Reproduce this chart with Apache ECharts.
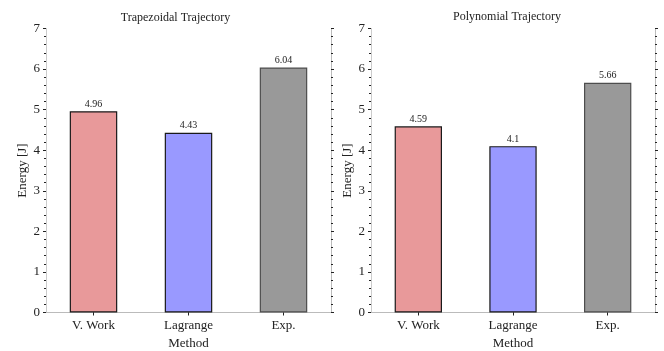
<!DOCTYPE html>
<html>
<head>
<meta charset="utf-8">
<script src="https://cdn.jsdelivr.net/npm/echarts@6/dist/echarts.min.js"></script>
<style>
  html, body { margin: 0; padding: 0; background: #fff; }
  #chart { width: 664px; height: 351px; }
</style>
</head>
<body>
<div id="chart"></div>
<script>
// Energy per method for two trajectory types
const methods = ['V. Work', 'Lagrange', 'Exp.'];
const trapezoidalEnergy = [4.96, 4.43, 6.04];
const polynomialEnergy = [4.59, 4.1, 5.66];
const panelTitles = ['Trapezoidal Trajectory', 'Polynomial Trajectory'];
const yTicks = [0, 1, 2, 3, 4, 5, 6, 7];

const FONT = '"Liberation Serif", "DejaVu Serif", serif';
const faceColors = ['#e8999a', '#9999ff', '#999999'];
const edgeColors = ['#1a1a1a', '#1a1a1a', '#4d4d4d'];

const chart = echarts.init(document.getElementById('chart'), null, { renderer: 'canvas' });

const grids = [
  { left: 46, right: 333, top: 28.5, bottom: 38.5, outerBoundsMode: 'none', containLabel: false },
  { left: 371, right: 9, top: 28.5, bottom: 38.5, outerBoundsMode: 'none', containLabel: false }
];

const xAxes = [];
const yAxes = [];
const series = [];

[trapezoidalEnergy, polynomialEnergy].forEach((values, g) => {
  // bottom category axis
  xAxes.push({
    type: 'category', gridIndex: g, data: methods, position: 'bottom',
    name: 'Method', nameLocation: 'middle', nameGap: 21,
    nameTextStyle: { fontFamily: FONT, fontSize: 13, color: '#222' },
    axisLine: { lineStyle: { color: '#777', width: 1.2 } },
    axisTick: { show: true, alignWithLabel: true, length: 3, lineStyle: { color: '#222' } },
    axisLabel: { fontFamily: FONT, fontSize: 13, color: '#222', margin: 7 },
    splitLine: { show: false }
  });
  // top frame with ticks
  xAxes.push({
    type: 'category', gridIndex: g, data: methods, position: 'top',
    axisLine: { show: true, lineStyle: { color: '#bbb', width: 1 } },
    axisTick: { show: true, alignWithLabel: true, length: 3, lineStyle: { color: '#222' } },
    axisLabel: { show: false },
    splitLine: { show: false }
  });
  // left value axis
  yAxes.push({
    type: 'value', gridIndex: g, min: 0, max: 7, interval: 1, position: 'left',
    name: 'Energy [J]', nameLocation: 'middle', nameGap: 17,
    nameTextStyle: { fontFamily: FONT, fontSize: 13, color: '#222' },
    axisLine: { show: true, lineStyle: { color: '#ccc', width: 1 } },
    axisTick: { show: true, length: 3, lineStyle: { color: '#222' } },
    minorTick: { show: true, splitNumber: 5, length: 2, lineStyle: { color: '#222' } },
    axisLabel: {
      fontFamily: FONT, fontSize: 13, color: '#222', margin: 6,
      formatter: v => (yTicks.includes(v) ? String(v) : '')
    },
    splitLine: { show: false }
  });
  // right frame with ticks
  yAxes.push({
    type: 'value', gridIndex: g, min: 0, max: 7, interval: 1, position: 'right',
    axisLine: { show: true, lineStyle: { color: '#bbb', width: 1 } },
    axisTick: { show: true, length: 3, lineStyle: { color: '#222' } },
    minorTick: { show: true, splitNumber: 5, length: 2, lineStyle: { color: '#222' } },
    axisLabel: { show: false },
    splitLine: { show: false }
  });

  series.push({
    type: 'bar',
    xAxisIndex: g * 2, yAxisIndex: g * 2,
    barWidth: '50%',
    data: values.map((v, i) => ({
      value: v,
      itemStyle: { color: faceColors[i], borderColor: edgeColors[i], borderWidth: 1.2 }
    })),
    label: {
      show: true, position: 'top', distance: 2,
      fontFamily: FONT, fontSize: 10, color: '#222',
      formatter: p => String(p.value)
    }
  });
});

chart.setOption({
  animation: false,
  backgroundColor: '#fff',
  grid: grids,
  xAxis: xAxes,
  yAxis: yAxes,
  series: series,
  graphic: [
    { type: 'text', x: 175.5, y: 17.5,
      style: { text: panelTitles[0], fontFamily: FONT, fontSize: 12, fill: '#222', textAlign: 'center', textVerticalAlign: 'middle' } },
    { type: 'text', x: 507, y: 16.5,
      style: { text: panelTitles[1], fontFamily: FONT, fontSize: 12, fill: '#222', textAlign: 'center', textVerticalAlign: 'middle' } }
  ]
});
</script>
</body>
</html>
